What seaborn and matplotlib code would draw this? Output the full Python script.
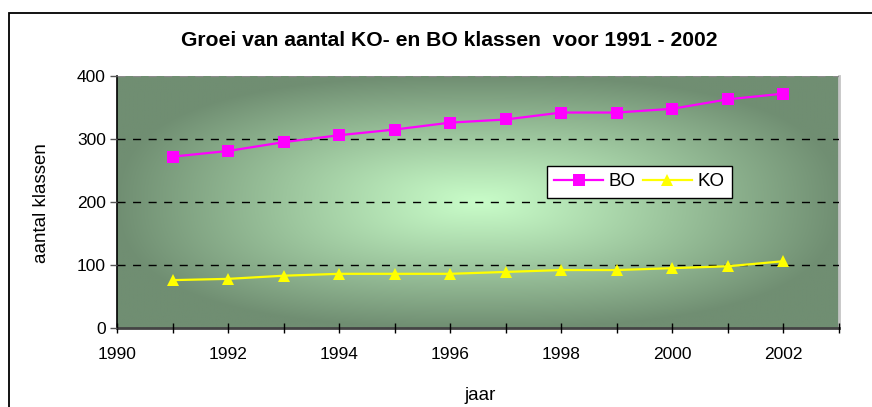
import numpy as np
import pandas as pd
import matplotlib
matplotlib.use("Agg")
import matplotlib.pyplot as plt
import seaborn as sns
from matplotlib.patches import Rectangle
from matplotlib.ticker import MultipleLocator

# ---- data ----
years = [1991, 1992, 1993, 1994, 1995, 1996, 1997, 1998, 1999, 2000, 2001, 2002]
bo_values = [272, 281, 295, 306, 315, 326, 331, 342, 342, 348, 363, 372]
ko_values = [76, 78, 83, 86, 86, 86, 89, 92, 92, 95, 98, 106]
series_names = ["BO", "KO"]
title_text = "Groei van aantal KO- en BO klassen  voor 1991 - 2002"
x_label = "jaar"
y_label = "aantal klassen"

df = pd.DataFrame({"jaar": years, "BO": bo_values, "KO": ko_values})
long_df = df.melt(id_vars="jaar", value_vars=series_names, var_name="serie", value_name="aantal")

plt.rcParams["font.family"] = ["Liberation Sans", "DejaVu Sans"]

fig = plt.figure(figsize=(8.72, 4.07), dpi=100)
fig.patch.set_facecolor("white")
W, H = 872, 407
ax = fig.add_axes([117 / W, 1 - 328 / H, (839 - 117) / W, (328 - 76) / H])

# gradient background (light center, darker edges)
nx, ny = 500, 250
xx, yy = np.meshgrid(np.linspace(-1, 1, nx), np.linspace(-1, 1, ny))
p = 2.6
t = np.clip((np.abs(xx) ** p + np.abs(yy) ** p) ** (1 / p), 0, 1) ** 1.1
center = np.array([200, 252, 200]) / 255
edge = np.array([112, 142, 114]) / 255
img = center[None, None, :] * (1 - t[..., None]) + edge[None, None, :] * t[..., None]
ax.imshow(img, extent=[0, 1, 0, 1], transform=ax.transAxes, aspect="auto", zorder=0,
          interpolation="bilinear")

palette = {"BO": "#ff00ff", "KO": "#ffff00"}
markers = {"BO": "s", "KO": "^"}
sns.lineplot(data=long_df, x="jaar", y="aantal", hue="serie", style="serie",
             palette=palette, markers=markers, dashes=False, markersize=8.5,
             markeredgewidth=0, linewidth=1.6, ax=ax, zorder=3)

ax.set_xlim(1990, 2003)
ax.set_ylim(0, 400)
ax.xaxis.set_major_locator(MultipleLocator(2))
ax.xaxis.set_minor_locator(MultipleLocator(1))
ax.yaxis.set_major_locator(MultipleLocator(100))

ax.grid(axis="y", color="black", linestyle=(0, (5.8, 5.4)), linewidth=1.0)
ax.set_axisbelow(False)
for gl, v in zip(ax.get_ygridlines(), ax.get_yticks()):
    gl.set_zorder(1)
    if v == 0:
        gl.set_visible(False)
    elif v == 400:
        gl.set_color("#8a8a8a")

ax.tick_params(axis="x", which="both", direction="inout", length=7, width=1,
               color="black", labelsize=12.5, pad=10)
ax.tick_params(axis="y", which="both", direction="out", length=5, width=1,
               color="#555555", labelsize=12.5, pad=3)

ax.spines["top"].set_visible(False)
ax.spines["right"].set_color("#c4c4c4")
ax.spines["right"].set_linewidth(2)
ax.spines["left"].set_color("black")
ax.spines["left"].set_linewidth(1.2)
ax.spines["bottom"].set_color("#444444")
ax.spines["bottom"].set_linewidth(2)

ax.set_xlabel("")
ax.set_ylabel("")

handles, labels = ax.get_legend_handles_labels()
leg = ax.legend(handles, labels, loc="center", bbox_to_anchor=(0.7235, 0.581),
                ncol=2, frameon=True, fancybox=False, fontsize=13.5,
                handlelength=2.6, handletextpad=0.3, columnspacing=0.4,
                borderpad=0.4, framealpha=1)
leg.get_frame().set_edgecolor("black")
leg.get_frame().set_linewidth(1.0)
leg.set_zorder(5)

fig.text(449 / W, 1 - 40 / H, title_text, ha="center", va="center",
         fontsize=15.2, fontweight="bold")
fig.text(480 / W, 1 - 395 / H, x_label, ha="center", va="center", fontsize=13.5)
fig.text(42 / W, 1 - 203 / H, y_label, ha="center", va="center", fontsize=13.5,
         rotation=90)

# outer chart border
fig.patches.append(Rectangle((9 / W, -0.2), 1.2, 1.2 - 13 / H, transform=fig.transFigure,
                             fill=False, edgecolor="black", linewidth=1.3, zorder=0))

fig.savefig("out.png", dpi=100)
